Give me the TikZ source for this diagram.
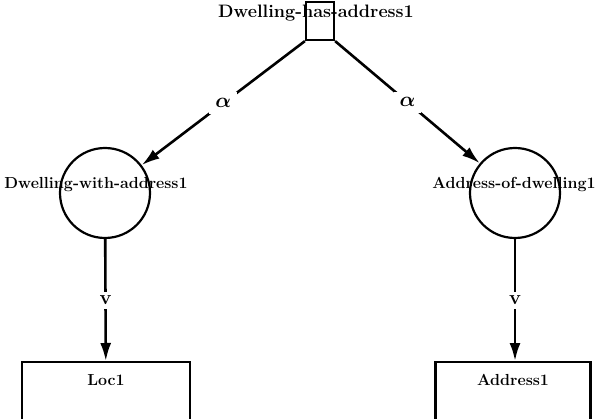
\documentclass[tikz,border=0pt]{standalone}
\usepackage{amsmath, amssymb}
\usepackage{tikz}
\usetikzlibrary{positioning, arrows.meta}
\tikzset{
  lbl/.style = {font=\fontsize{16}{18}\selectfont\bfseries, inner sep = 0},
  cnode/.style = {draw, circle, line width = 2.2pt, minimum size = 90pt},
  topbox/.style = {draw, line width = 2.2pt, minimum width = 28pt, minimum height = 38pt, inner sep = 0},
  lowbox/.style = {draw, line width = 2.2pt, minimum width = 168pt, minimum height = 90pt, anchor = north, inner sep = 0},
  conn/.style = {line width = 2.6pt, -{Latex[length = 18pt, width = 11pt]}},
  mid/.style = {fill = white, inner sep = 6pt, font = \fontsize{20}{20}\selectfont\bfseries}
}

\begin{document}
\begin{tikzpicture}[x=1pt, y=-1pt]
    \useasboundingbox (0, 0) rectangle (607, 419);
    \clip (0, 0) rectangle (607, 419);
    % top relation
    \node [topbox] (hasaddr) at (320, 21) {};
    \node [lbl, font = \fontsize{18}{20}\selectfont\bfseries] (hasaddrtxt) at (316, 13) {Dwelling-has-address1};
    % the two circles
    \node [cnode] (dwell) at (105, 193) {};
    \node [lbl] (dwelltxt) at (96, 185) {Dwelling-with-address1};
    \node [cnode] (addr) at (515, 193) {};
    \node [lbl] (addrtxt) at (514, 185) {Address-of-dwelling1};
    % bottom boxes
    \node [lowbox] (loc) at (106, 361) {};
    \node [lbl, below = 13pt of loc.north] (loctxt) {Loc1};
    \node [lowbox, minimum width = 155pt] (address) at (513, 361) {};
    \node [lbl, below = 13pt of address.north] (addresstxt) {Address1};
    % connectors
    \draw [conn] (hasaddr.south west) -- node [mid] {$\boldsymbol{\alpha}$} (dwell);
    \draw [conn] (hasaddr.south east) -- node [mid] {$\boldsymbol{\alpha}$} (addr);
    \draw [conn] (dwell) -- node [mid, inner sep = 4pt] {v} (loc);
    \draw [conn] (addr) -- node [mid, inner sep = 4pt] {v} (address.north -| addr);
  \end{tikzpicture}
\end{document}
